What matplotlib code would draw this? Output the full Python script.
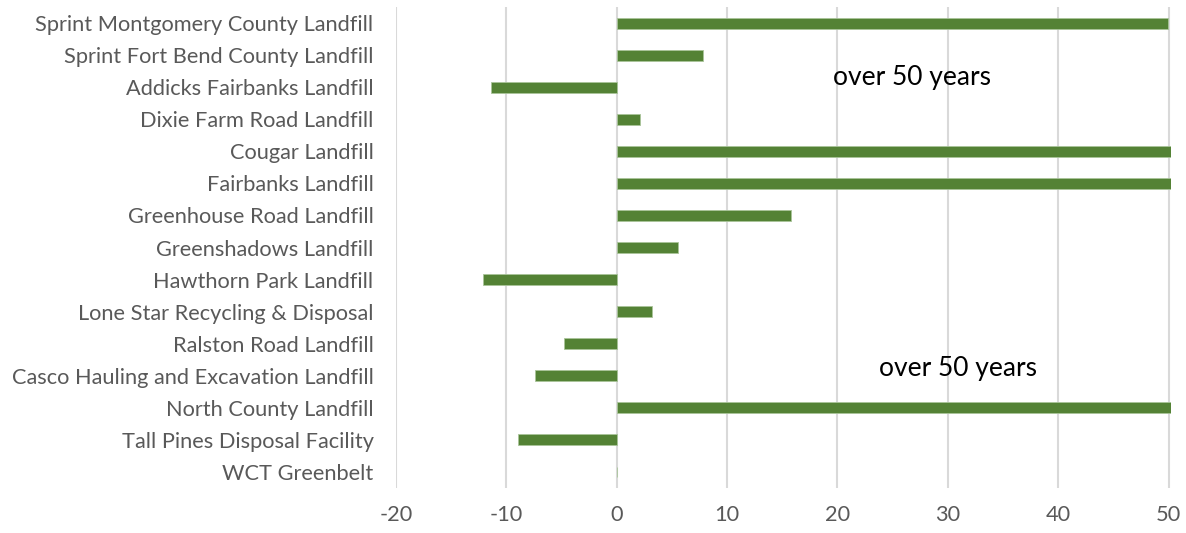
import matplotlib
matplotlib.use("Agg")
import matplotlib.pyplot as plt

# Landfills, top to bottom as drawn
landfills = [
    "Sprint Montgomery County Landfill",
    "Sprint Fort Bend County Landfill",
    "Addicks Fairbanks Landfill",
    "Dixie Farm Road Landfill",
    "Cougar Landfill",
    "Fairbanks Landfill",
    "Greenhouse Road Landfill",
    "Greenshadows Landfill",
    "Hawthorn Park Landfill",
    "Lone Star Recycling & Disposal",
    "Ralston Road Landfill",
    "Casco Hauling and Excavation Landfill",
    "North County Landfill",
    "Tall Pines Disposal Facility",
    "WCT Greenbelt",
]
# remaining life (years); bars that run past 50 are cut at the axis edge
years = [49.9, 7.8, -11.4, 2.1, 100, 100, 15.8, 5.6, -12.1, 3.2, -4.8, -7.4, 100, -8.9, 0]

x_ticks = [-20, -10, 0, 10, 20, 30, 40, 50]
notes = ["over 50 years", "over 50 years"]
note_x = [26.8, 30.9]
note_y = [1.7, 10.78]

BAR_COLOR = "#548235"
TEXT_COLOR = "#595959"
GRID_COLOR = "#d9d9d9"

plt.rcParams["font.family"] = ["Lato", "DejaVu Sans"]

fig = plt.figure(figsize=(11.86, 5.33), dpi=100)
ax = fig.add_axes([0.3337, 0.0844, 0.6535, 0.9024])

pos = list(range(len(landfills)))
ax.barh(pos, years, height=0.34, color=BAR_COLOR, edgecolor="#a9c49a", linewidth=0.6, zorder=3)

ax.set_xlim(-20, 50.2)
ax.set_ylim(len(landfills) - 0.5, -0.5)
ax.set_xticks(x_ticks)
ax.set_xticklabels([str(t) for t in x_ticks])
ax.set_yticks(pos)
ax.set_yticklabels(landfills)
ax.tick_params(axis="both", length=0, labelsize=15.7, colors=TEXT_COLOR)
ax.tick_params(axis="y", pad=16)
ax.tick_params(axis="x", pad=12)
ax.xaxis.grid(True, color=GRID_COLOR, linewidth=1.5, zorder=0)
ax.set_axisbelow(True)
for s in ax.spines.values():
    s.set_visible(False)

for t, xv, yv in zip(notes, note_x, note_y):
    ax.text(xv, yv, t, ha="center", va="center", fontsize=19, color="black")

fig.savefig("out.png", dpi=100)
